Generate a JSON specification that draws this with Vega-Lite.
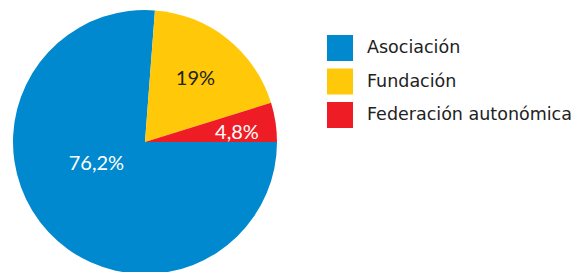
{
  "$schema": "https://vega.github.io/schema/vega-lite/v6.json",
  "width": 264,
  "height": 264,
  "padding": {"left": 13, "top": 10, "right": 0, "bottom": 0},
  "background": "white",
  "config": {"view": {"stroke": null}, "font": "Lato"},
  "data": {"values": [
    {"cat": "Asociación", "value": 76.2, "label": "76,2%", "ord": 1},
    {"cat": "Fundación", "value": 19, "label": "19%", "ord": 2},
    {"cat": "Federación autonómica", "value": 4.8, "label": "4,8%", "ord": 3}
  ]},
  "encoding": {
    "theta": {"field": "value", "type": "quantitative", "stack": true, "scale": {"range": [1.5707963, 7.8539816]}},
    "order": {"field": "ord", "type": "quantitative"}
  },
  "layer": [
    {
      "mark": {"type": "arc", "stroke": null},
      "encoding": {
        "color": {"field": "cat", "type": "nominal",
          "scale": {"domain": ["Asociación", "Fundación", "Federación autonómica"], "range": ["#0089CF", "#FFC808", "#EE1D25"]},
          "legend": {"title": null, "orient": "none", "legendX": 314, "legendY": 25, "symbolType": "square", "symbolSize": 676, "symbolStrokeWidth": 0, "rowPadding": 7.5, "labelOffset": 14, "labelFontSize": 17.5, "labelColor": "#222222", "labelFont": "DejaVu Sans", "labelLimit": 400}
        }
      }
    },
    {
      "mark": {"type": "text", "fontSize": 20, "color": "white", "dx": -9, "dy": -15, "baseline": "middle", "align": "center"},
      "encoding": {
        "radius": {"value": 54},
        "text": {"condition": {"test": "datum.ord === 1", "field": "label"}, "value": ""}
      }
    },
    {
      "mark": {"type": "text", "fontSize": 20, "color": "#222222", "baseline": "middle", "align": "center"},
      "encoding": {
        "radius": {"value": 81},
        "text": {"condition": {"test": "datum.ord === 2", "field": "label"}, "value": ""}
      }
    },
    {
      "mark": {"type": "text", "fontSize": 20, "color": "white", "dy": 5, "baseline": "middle", "align": "center"},
      "encoding": {
        "radius": {"value": 93},
        "text": {"condition": {"test": "datum.ord === 3", "field": "label"}, "value": ""}
      }
    }
  ]
}
